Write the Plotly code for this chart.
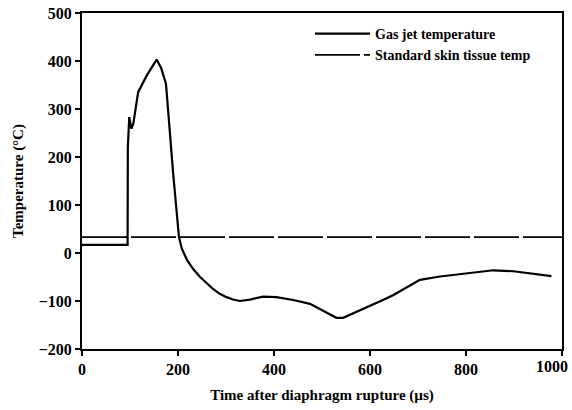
import plotly.graph_objects as go

# Gas jet temperature (time in µs, temperature in °C)
gas_time = [0, 95, 95.5, 98.5, 103, 107, 117, 135, 155.6, 165, 175, 180, 190, 202, 208,
            219, 232, 246, 260, 273, 287, 301, 315, 329, 350, 377, 405, 440, 475, 489,
            510, 530, 544, 565, 593, 620, 648, 683, 704, 746, 801, 857, 899, 941, 978]
gas_temp = [17, 17, 220, 283, 259, 270, 335, 370, 403, 385, 352, 283, 165, 33, 9,
            -15, -34, -50, -64, -75, -85, -92, -97, -100, -97, -91, -92, -98, -106, -113,
            -124, -135, -135, -126, -113, -101, -88, -68, -56, -49, -42, -36, -38, -43, -48]

# Standard skin tissue temperature
skin_time = [0, 1000]
skin_temp = [33, 33]

x_ticks = [0, 200, 400, 600, 800, 1000]
x_tick_labels = ["0", "200", "400", "600", "800", "1000"]
y_ticks = [-200, -100, 0, 100, 200, 300, 400, 500]

font_family = "Liberation Serif, Times New Roman, serif"
tick_font = dict(family=font_family, size=16, color="black", weight="bold")

fig = go.Figure()
fig.add_trace(go.Scatter(x=gas_time, y=gas_temp, mode="lines",
                         name="Gas jet temperature",
                         line=dict(color="black", width=2.2)))
fig.add_trace(go.Scatter(x=skin_time, y=skin_temp, mode="lines",
                         name="Standard skin tissue temp",
                         line=dict(color="black", width=1.6, dash="45px,4px")))

axis_common = dict(showline=True, linecolor="black", linewidth=2, mirror=True,
                   ticks="outside", ticklen=5, tickwidth=2, tickcolor="black",
                   showgrid=False, zeroline=False, automargin=False,
                   tickfont=tick_font)

# last x tick label sits flush against the right edge (as in the reference)
shown_labels = x_tick_labels[:-1] + [""]

fig.update_layout(
    width=572, height=410,
    margin=dict(l=82, r=10, t=13, b=61),
    paper_bgcolor="white", plot_bgcolor="white",
    font=dict(family=font_family, color="black"),
    xaxis=dict(range=[0, 1000], tickvals=x_ticks, ticktext=shown_labels,
               title=dict(text="Time after diaphragm rupture (µs)",
                          font=dict(family=font_family, size=15, color="black", weight="bold"),
                          standoff=12),
               **axis_common),
    yaxis=dict(range=[-200, 500], tickvals=y_ticks,
               title=dict(text="Temperature (°C)",
                          font=dict(family=font_family, size=15, color="black", weight="bold"),
                          standoff=11),
               **axis_common),
    legend=dict(x=0.475, y=0.985, xanchor="left", yanchor="top",
                bgcolor="rgba(0,0,0,0)", borderwidth=0,
                font=dict(family=font_family, size=14, color="black", weight="bold"),
                tracegroupgap=0, itemwidth=55),
    showlegend=True,
)

fig.add_annotation(x=x_ticks[-1], y=0, xref="x", yref="paper",
                   text=x_tick_labels[-1], showarrow=False,
                   xanchor="right", yanchor="top", xshift=8, yshift=-7,
                   font=tick_font)

fig.write_html("out.html")
